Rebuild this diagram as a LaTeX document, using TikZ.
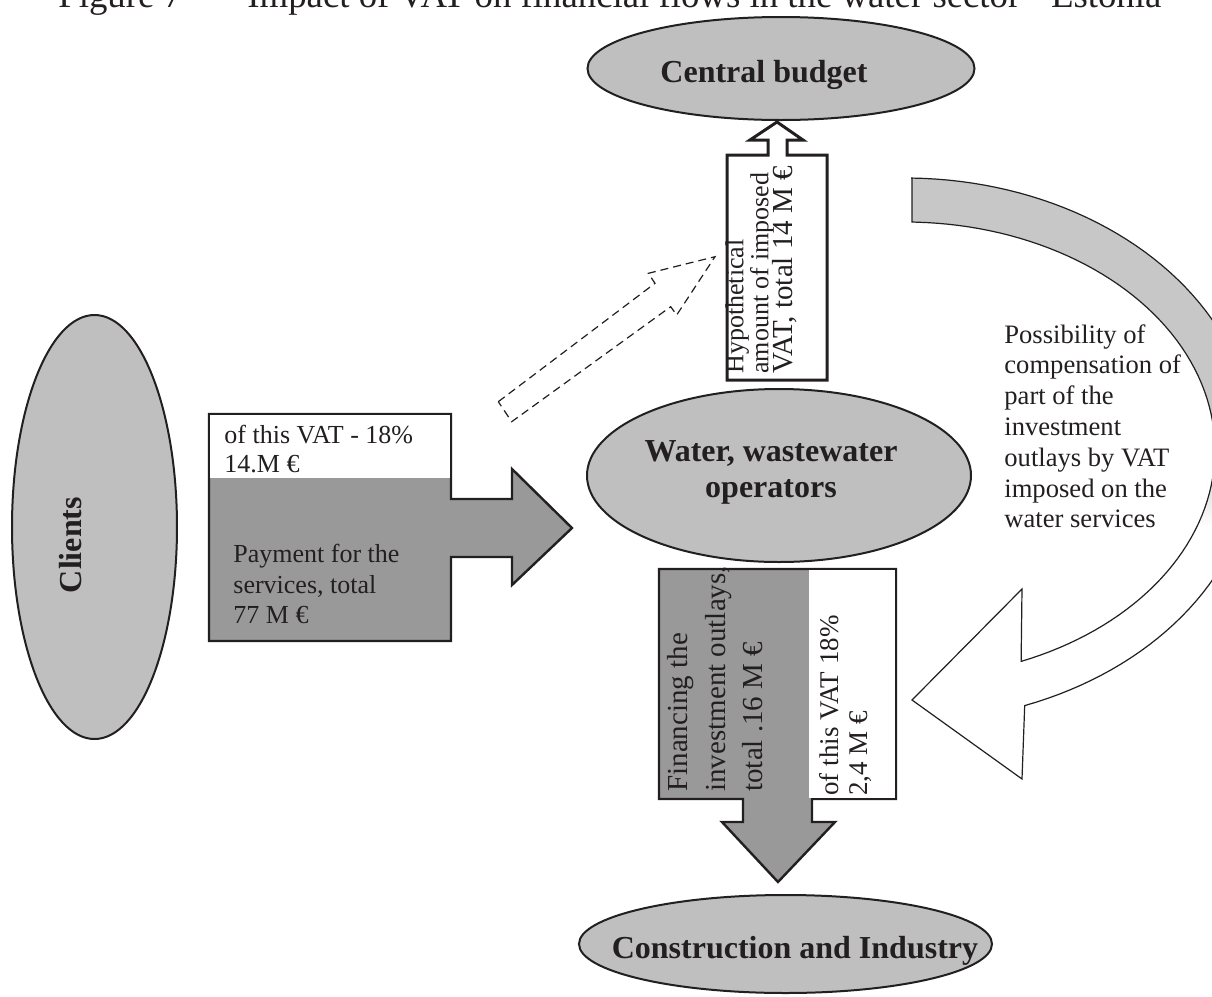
\documentclass[tikz,border=0pt]{standalone}
\usepackage{fontspec}
\setmainfont{Liberation Serif}
\usetikzlibrary{shapes.geometric}
\definecolor{ink}{HTML}{231F20}
\definecolor{ovalfill}{gray}{0.75}
\definecolor{flowfill}{gray}{0.6}
\definecolor{bandfill}{gray}{0.78}
\pgfdeclareverticalshading{bandshade}{100bp}{color(0bp)=(white); color(46bp)=(white); color(52bp)=(bandfill); color(100bp)=(bandfill)}
\tikzset{
	oval/.style={ellipse, draw=ink, line width=1pt, fill=ovalfill, inner sep=0pt},
	heading/.style={font=\fontsize{16}{18}\selectfont\bfseries, text=ink, inner sep=0pt, align=center},
	txt/.style={font=\fontsize{13}{15.25}\selectfont, text=ink, inner sep=0pt, align=left},
	flow/.style={draw=ink, line width=1.2pt, fill=flowfill},
}

\begin{document}
\begin{tikzpicture}[x=0.5pt, y=-0.5pt]
	\useasboundingbox (0,0) rectangle (1212,997);
	\clip (0,0) rectangle (1212,997);

	\node[anchor=base west, inner sep=0pt, text=ink, font=\fontsize{18.4}{20}\selectfont] (fig) at (58,7) {Figure 7};
	\node[anchor=base west, inner sep=0pt, text=ink, font=\fontsize{18.4}{20}\selectfont] (cap) at (247,7) {Impact of VAT on financial flows in the water sector - Estonia};

	\node[oval, minimum width=193.5pt, minimum height=51.5pt] (cb) at (781,68.5) {};
	\node[oval, minimum width=192pt, minimum height=86.5pt] (ww) at (779,475.5) {};
	\node[oval, minimum width=82.5pt, minimum height=212pt] (cl) at (94.5,527) {};
	\node[oval, minimum width=206.5pt, minimum height=49pt] (ci) at (785.5,944) {};

	\node[heading, anchor=base] (cbt) at (764,82) {Central budget};
	\node[heading] (wwt) at (771,472.5) {Water, wastewater\\operators};
	\node[heading, rotate=90, anchor=base] (clt) at (82,545) {Clients};
	\node[heading, anchor=base] (cit) at (795,958) {Construction and Industry};

	\draw[ink, line width=0.6pt, shading=bandshade] (912,178) -- plot[domain=-89:70, samples=80, variable=\t] ({905+350*cos(\t)}, {450+272*sin(\t)}) -- (1022,779) -- (912,700) -- (1022,589) -- plot[domain=68:-88, samples=80, variable=\t] ({905+310*cos(\t)}, {450+228*sin(\t)}) -- (912,222) -- cycle;

	\draw[flow, fill=white, line width=1.5pt] (727,155) -- (768,155) -- (768,140) -- (750,140) -- (777,122) -- (803,140) -- (787,140) -- (787,155) -- (827,155) -- (827,380) -- (727,380) -- cycle;

	\draw[flow] (209,414) -- (451,414) -- (451,499) -- (512,499) -- (512,469) -- (572,528) -- (512,585) -- (512,557) -- (451,557) -- (451,641) -- (209,641) -- cycle;
	\fill[white] (210.2,415.2) rectangle (449.8,478);

	\draw[flow] (659,569) -- (896,569) -- (896,799) -- (812,799) -- (812,822) -- (835,822) -- (778,882) -- (722,822) -- (743,822) -- (743,799) -- (659,799) -- cycle;
	\fill[white] (809,570.2) rectangle (894.8,797.8);

	\draw[ink, line width=0.6pt, dash pattern=on 4pt off 2.5pt] (498.3,401.7) -- (655,283.3) -- (648.3,273.3) -- (715,256.7) -- (676.7,315) -- (670.7,306.7) -- (511.7,421.7) -- cycle;

	\node[txt, anchor=north west, font=\fontsize{13}{14.5}\selectfont] (vat1) at (224,425) {of this VAT - 18\%\\14.M €};
	\node[txt, anchor=north west] (pay) at (233,544) {Payment for the\\services, total\\77 M €};
	\node[txt, anchor=north west, rotate=90, font=\fontsize{14.5}{18.75}\selectfont] (fin) at (667,792) {Financing the\\investment outlays,\\total .16 M €};
	\node[txt, anchor=north west, rotate=90, font=\fontsize{13.5}{14.5}\selectfont] (vat2) at (819,796) {of this VAT 18\%\\2,4 M €};
	\node[txt, anchor=north west, rotate=90, font=\fontsize{13}{12.5}\selectfont] (hyp) at (725,374) {Hypothetical\\amount of imposed\\[-2pt]{\fontsize{14.5}{12.5}\selectfont VAT, total 14 M €}};
	\node[txt, anchor=north west, font=\fontsize{13.3}{15.4}\selectfont] (pos) at (1004,324) {Possibility of\\compensation of\\part of the\\investment\\outlays by VAT\\imposed on the\\water services};
\end{tikzpicture}
\end{document}
